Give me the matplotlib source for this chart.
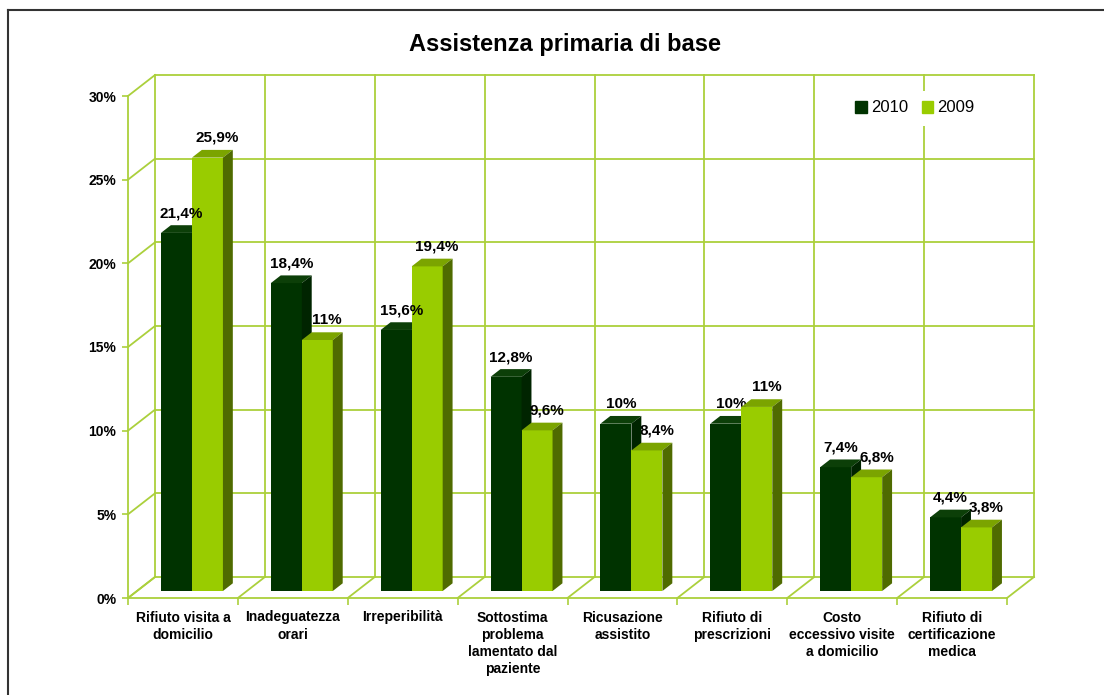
import matplotlib
matplotlib.use('Agg')
import matplotlib.pyplot as plt
from matplotlib.patches import Polygon, Patch
from matplotlib.lines import Line2D
import numpy as np

plt.rcParams['font.family'] = ['Liberation Sans', 'DejaVu Sans']

#%% data
categories = ['Rifiuto visita a\ndomicilio', 'Inadeguatezza\norari', 'Irreperibilità',
              'Sottostima\nproblema\nlamentato dal\npaziente', 'Ricusazione\nassistito',
              'Rifiuto di\nprescrizioni', 'Costo\neccessivo visite\na domicilio',
              'Rifiuto di\ncertificazione\nmedica']
vals_2010 = [21.4, 18.4, 15.6, 12.8, 10.0, 10.0, 7.4, 4.4]
vals_2009 = [25.9, 15.0, 19.4, 9.6, 8.4, 11.0, 6.8, 3.8]
labels_2010 = ['21,4%', '18,4%', '15,6%', '12,8%', '10%', '10%', '7,4%', '4,4%']
labels_2009 = ['25,9%', '11%', '19,4%', '9,6%', '8,4%', '11%', '6,8%', '3,8%']
yticks = [0, 5, 10, 15, 20, 25, 30]

#%% style
grid_c = '#abd03c'
c10 = ('#003300', '#0c3f08', '#002400')   # front, top, side
c09 = ('#99cc00', '#7ba400', '#4f6b00')

W, H = 1104, 695
fig = plt.figure(figsize=(W / 100, H / 100), dpi=100)
ax = fig.add_axes([128 / W, 97 / H, 879 / W, 502 / H])
n = len(categories)
ax.set_xlim(0, n)
ax.set_ylim(0, 30)

# depth of the fake 3d box, pixels -> data units
px_x = 879 / n
px_y = 502 / 30
DX = 27 / px_x
DY = 21 / px_y

kw = dict(color=grid_c, lw=1.3, clip_on=False, zorder=1)
for t in yticks:
    ax.plot([DX, n + DX], [t + DY, t + DY], **kw)
    ax.plot([0, DX], [t, t + DY], **kw)
for k in range(n + 1):
    ax.plot([k + DX, k + DX], [DY, 30 + DY], **kw)
    ax.plot([k, k + DX], [0, DY], **kw)

# axes look
for s in ['top', 'right']:
    ax.spines[s].set_visible(False)
for s in ['left', 'bottom']:
    ax.spines[s].set_color(grid_c)
    ax.spines[s].set_linewidth(1.3)
ax.set_yticks(yticks)
ax.set_yticklabels(['%d%%' % t for t in yticks], fontsize=10, fontweight='bold')
ax.tick_params(axis='y', length=4.5, width=1.2, color=grid_c, pad=4)
ax.set_xticks(np.arange(n + 1), minor=True)
ax.set_xticks(np.arange(n) + 0.5)
ax.set_xticklabels(categories, fontsize=10, fontweight='bold', linespacing=1.3, va='top')
ax.tick_params(axis='x', which='major', length=0, pad=9)
ax.tick_params(axis='x', which='minor', length=5, width=1.2, color=grid_c)
for t in ax.get_xticklabels():
    t.set_multialignment('center')

# bars
bw = 0.282
f0, f1 = 1 / 3, 0.70
d = f1 - f0
z = 3
for i in range(n):
    for j, (v, lab, cols, off) in enumerate([(vals_2010[i], labels_2010[i], c10, 0),
                                               (vals_2009[i], labels_2009[i], c09, 5)]):
        xa = i + 0.218 + j * bw + f0 * DX
        xb = xa + bw
        base = f0 * DY
        vt = v + base
        ax.bar(xa, v, width=bw, bottom=base, align='edge', color=cols[0],
               clip_on=False, zorder=z)
        top = [(xa, vt), (xb, vt), (xb + d * DX, vt + d * DY), (xa + d * DX, vt + d * DY)]
        side = [(xb, base), (xb, vt), (xb + d * DX, vt + d * DY), (xb + d * DX, base + d * DY)]
        ax.add_patch(Polygon(top, closed=True, fc=cols[1], ec='none', clip_on=False, zorder=z))
        ax.add_patch(Polygon(side, closed=True, fc=cols[2], ec='none', clip_on=False, zorder=z))
        ax.annotate(lab, xy=((xa + xb) / 2 + d * DX / 2, vt + d * DY), xytext=(off, 5),
                    textcoords='offset pixels', ha='center', va='bottom',
                    fontsize=11, fontweight='bold', zorder=10, annotation_clip=False)
        z += 1

# legend
handles = [Patch(color=c10[0], label='2010'), Patch(color=c09[0], label='2009')]
leg = ax.legend(handles=handles, ncol=2, loc='center', bbox_to_anchor=(915 / W, 1 - 108 / H),
                bbox_transform=fig.transFigure, fontsize=12, handlelength=0.7,
                handleheight=0.7, handletextpad=0.25, columnspacing=0.8,
                frameon=True, borderpad=0.6)
leg.get_frame().set_facecolor('white')
leg.get_frame().set_edgecolor('none')
leg.get_frame().set_alpha(1)
leg.set_zorder(20)

fig.text(565 / W, 1 - 45 / H, 'Assistenza primaria di base', ha='center', va='center',
         fontsize=17, fontweight='bold')

# outer frame (left and top only)
fig.add_artist(Line2D([8 / W, 8 / W], [0, 1 - 10 / H], transform=fig.transFigure,
                      color='#333333', lw=1.5))
fig.add_artist(Line2D([8 / W, 1], [1 - 10 / H, 1 - 10 / H], transform=fig.transFigure,
                      color='#333333', lw=1.5))

fig.savefig('out.png', dpi=100)
